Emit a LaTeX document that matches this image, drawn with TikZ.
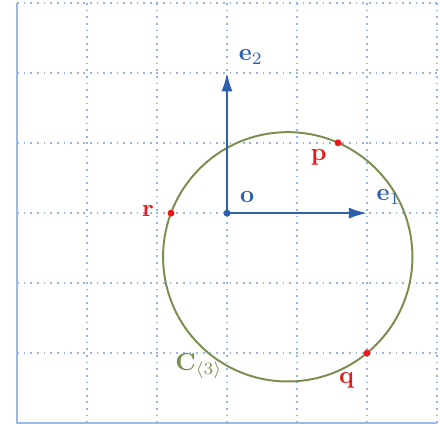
\documentclass[tikz,border=0pt]{standalone}
\usepackage{amsmath}
\usetikzlibrary{calc,arrows.meta}
\definecolor{axisblue}{RGB}{45,95,170}
\definecolor{gridblue}{RGB}{150,180,225}
\definecolor{framblue}{RGB}{160,185,225}
\definecolor{circgreen}{RGB}{122,142,80}
\definecolor{ptred}{RGB}{235,25,25}
\begin{document}
\begin{tikzpicture}[
  vec/.style={axisblue, line width=0.8pt, -{Latex[length=2.6mm,width=1.6mm]}},
  ptdot/.style={fill=ptred, draw=none},
  lbl/.style={inner sep=0pt, font=\normalsize}
]
\useasboundingbox (-3.243,-3.01) rectangle (3.043,3.045);
\draw[gridblue, dotted, line width=0.7pt] (-3,-3) grid (3,3);
\draw[framblue, line width=1pt] (-3,3) -- (-3,-3) -- (3,-3);
\coordinate (o) at (0,0);
\coordinate (e1) at (2,0);
\coordinate (e2) at (0,2);
\coordinate (c) at (0.868,-0.624);
\coordinate (p) at (1.586,1.005);
\coordinate (q) at (2,-2);
\coordinate (r) at (-0.8,0);
\draw[circgreen, line width=0.8pt] (c) circle (1.781);
\draw[vec] (o) -- (e1);
\draw[vec] (o) -- (e2);
\fill[axisblue] (o) circle (1.4pt);
\fill[ptdot] (p) circle (1.4pt);
\fill[ptdot] (q) circle (1.4pt);
\fill[ptdot] (r) circle (1.4pt);
\node[lbl, text=axisblue] (le2) at (0.34,2.23) {$\mathbf{e}_2$};
\node[lbl, text=axisblue] (le1) at (2.31,0.23) {$\mathbf{e}_1$};
\node[lbl, text=axisblue] (lo) at (0.29,0.23) {$\mathbf{o}$};
\node[lbl, text=ptred] (lp) at (1.31,0.80) {$\mathbf{p}$};
\node[lbl, text=ptred] (lq) at (1.71,-2.39) {$\mathbf{q}$};
\node[lbl, text=ptred] (lr) at (-1.13,0.03) {$\mathbf{r}$};
\node[lbl, text=circgreen] (lc) at (-0.40,-2.19) {$\mathbf{C}_{\langle 3\rangle}$};
\end{tikzpicture}
\end{document}
